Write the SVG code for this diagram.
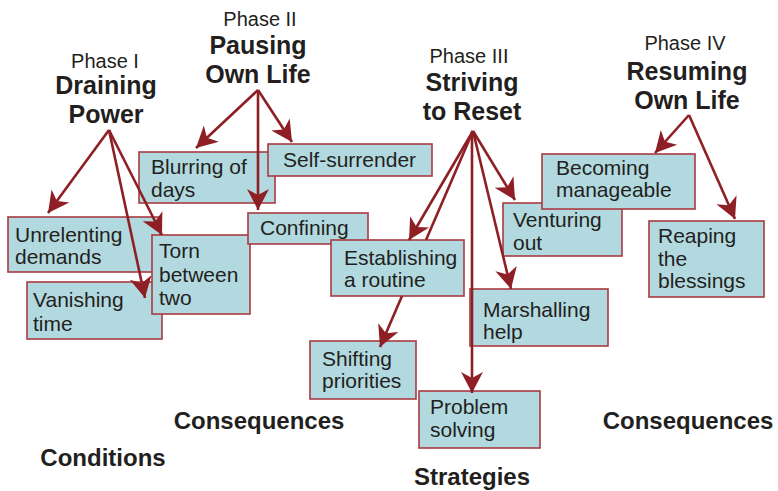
<svg xmlns="http://www.w3.org/2000/svg" width="778" height="491" viewBox="0 0 778 491">
<defs>
<style>
.box rect{fill:#b2d9df;stroke:#a83a40;stroke-width:1.6}
.box text{font-family:"Liberation Sans",Arial,sans-serif;font-size:21px;fill:#231f20}
.ph{font-family:"Liberation Sans",Arial,sans-serif;font-size:20px;fill:#231f20;text-anchor:middle}
.ttl{font-family:"Liberation Sans",Arial,sans-serif;font-size:25px;font-weight:bold;fill:#231f20;text-anchor:middle}
.lab{font-family:"Liberation Sans",Arial,sans-serif;font-size:24px;font-weight:bold;fill:#231f20;text-anchor:middle}
.conn path{fill:none;stroke:#8e1f25;stroke-width:2.6;marker-end:url(#ah)}
</style>
<marker id="ah" markerUnits="userSpaceOnUse" markerWidth="24" markerHeight="26" refX="22" refY="12" orient="auto" viewBox="0 0 24 26">
<path d="M22,12 L1,1 L7,12 L1,23 Z" fill="#8e1f25"/>
</marker>
</defs>
<rect width="778" height="491" fill="#fff"/>

<g id="titles">
<text class="ph" x="105" y="68">Phase I</text>
<text class="ttl" x="106" y="94">Draining</text>
<text class="ttl" x="106" y="123">Power</text>
<text class="ph" x="260" y="26">Phase II</text>
<text class="ttl" x="258" y="54">Pausing</text>
<text class="ttl" x="258" y="83">Own Life</text>
<text class="ph" x="469" y="63">Phase III</text>
<text class="ttl" x="472" y="91">Striving</text>
<text class="ttl" x="472" y="120">to Reset</text>
<text class="ph" x="685" y="50">Phase IV</text>
<text class="ttl" x="687" y="80">Resuming</text>
<text class="ttl" x="687" y="109">Own Life</text>
</g>

<g id="n-unrelenting" class="box"><rect x="8" y="217" width="152" height="55"/><text x="15" y="242">Unrelenting</text><text x="15" y="264">demands</text></g>
<g id="n-vanishing" class="box"><rect x="27" y="282" width="135" height="57"/><text x="33" y="307">Vanishing</text><text x="33" y="331">time</text></g>
<g id="n-torn" class="box"><rect x="152" y="235" width="98" height="79"/><text x="159" y="258">Torn</text><text x="159" y="282">between</text><text x="159" y="305">two</text></g>
<g id="n-blurring" class="box"><rect x="139" y="152" width="136" height="51"/><text x="151" y="174">Blurring of</text><text x="151" y="197">days</text></g>
<g id="n-selfsurrender" class="box"><rect x="268" y="144" width="164" height="32"/><text x="283" y="167">Self-surrender</text></g>
<g id="n-confining" class="box"><rect x="248" y="213" width="120" height="31"/><text x="260" y="235">Confining</text></g>
<g id="n-establishing" class="box"><rect x="331" y="240" width="133" height="56"/><text x="344" y="265">Establishing</text><text x="344" y="287">a routine</text></g>
<g id="n-shifting" class="box"><rect x="310" y="341" width="106" height="58"/><text x="322" y="366">Shifting</text><text x="322" y="388">priorities</text></g>
<g id="n-problem" class="box"><rect x="419" y="391" width="121" height="57"/><text x="430" y="414">Problem</text><text x="430" y="437">solving</text></g>
<g id="n-marshalling" class="box"><rect x="470" y="289" width="138" height="57"/><text x="483" y="317">Marshalling</text><text x="483" y="339">help</text></g>
<g id="n-venturing" class="box"><rect x="503" y="203" width="119" height="53"/><text x="513" y="227">Venturing</text><text x="513" y="250">out</text></g>
<g id="n-becoming" class="box"><rect x="542" y="154" width="153" height="55"/><text x="556" y="175">Becoming</text><text x="556" y="197">manageable</text></g>
<g id="n-reaping" class="box"><rect x="649" y="221" width="115" height="76"/><text x="658" y="243">Reaping</text><text x="658" y="266">the</text><text x="658" y="288">blessings</text></g>

<g id="connectors" class="conn">
<path d="M109,130 L48,213"/>
<path d="M109,130 L162,235"/>
<path d="M109,130 L145,298"/>
<path d="M258,90 L196,148"/>
<path d="M258,90 L292,142"/>
<path d="M258,90 L258,210"/>
<path d="M473,131 L409,240"/>
<path d="M473,131 L426,240 M402,296 L380,347"/>
<path d="M473,131 L515,200"/>
<path d="M473,131 L511,289"/>
<path d="M472,131 L472,393"/>
<path d="M689,115 L655,153"/>
<path d="M689,115 L735,219"/>
</g>

<g id="labels">
<text class="lab" x="259" y="429">Consequences</text>
<text class="lab" x="103" y="466">Conditions</text>
<text class="lab" x="472" y="485">Strategies</text>
<text class="lab" x="688" y="429">Consequences</text>
</g>
</svg>
